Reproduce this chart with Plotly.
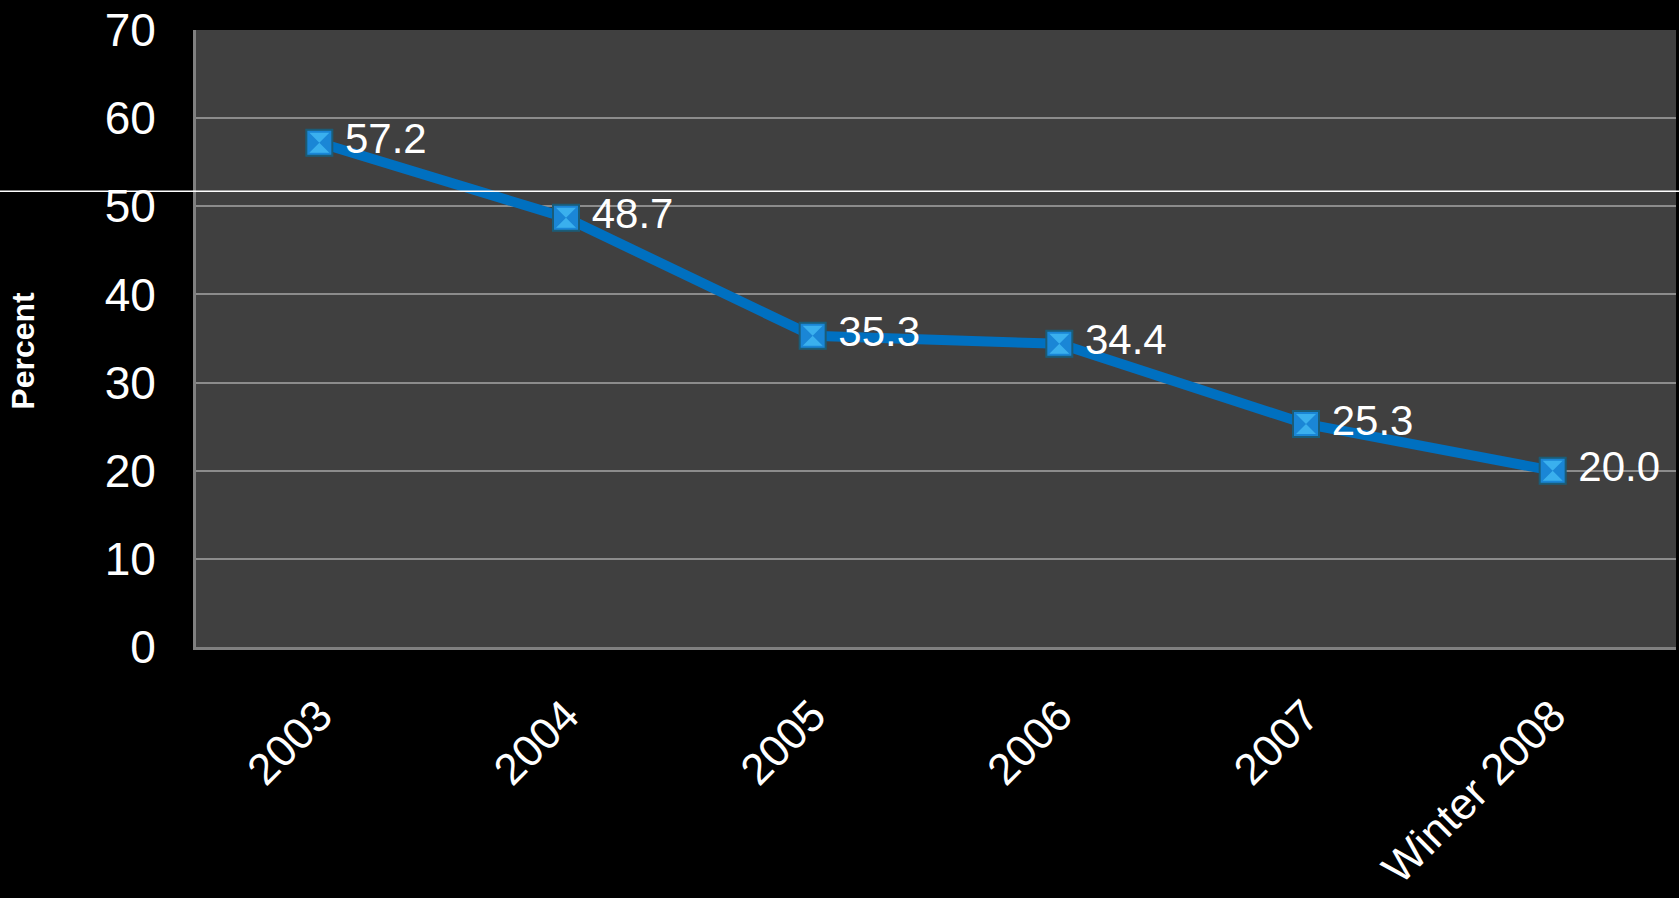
import plotly.graph_objects as go

categories = ["2003", "2004", "2005", "2006", "2007", "Winter 2008"]
values = [57.2, 48.7, 35.3, 34.4, 25.3, 20.0]
value_labels = ["57.2", "48.7", "35.3", "34.4", "25.3", "20.0"]
y_ticks = [0, 10, 20, 30, 40, 50, 60, 70]

W, H = 1679, 898
L, R, T, B = 196, 3, 30, 251

fig = go.Figure()
fig.add_trace(go.Scatter(
    x=categories, y=values,
    mode="lines+markers+text",
    line=dict(color="#0070C0", width=10),
    marker=dict(symbol="square", size=26, color="#1A86D6",
                line=dict(color="#1A5C78", width=2)),
    text=["\u2009" + s for s in value_labels], textposition="middle right",
    textfont=dict(family="Liberation Sans, Arial", size=42, color="white"),
    cliponaxis=False,
    showlegend=False,
))
# bevel highlight of the square markers
fig.add_trace(go.Scatter(
    x=categories, y=values,
    mode="markers",
    marker=dict(symbol="hourglass", size=20, color="rgba(70,190,245,0.75)",
                line=dict(width=0)),
    cliponaxis=False, showlegend=False, hoverinfo="skip",
))

fig.update_layout(
    width=W, height=H,
    margin=dict(l=L, r=R, t=T, b=B, autoexpand=False),
    paper_bgcolor="black",
    plot_bgcolor="#404040",
    font=dict(family="Liberation Sans, Arial", color="white"),
    xaxis=dict(
        type="category", range=[-0.5, 5.5], automargin=False,
        tickangle=-45, tickfont=dict(size=44, color="white"),
        showgrid=False, showline=True, linecolor="#808080", linewidth=3,
        ticks="", ticklabelstandoff=22,
    ),
    yaxis=dict(
        range=[0, 70], tickvals=y_ticks, automargin=False,
        tickfont=dict(size=46, color="white"),
        showgrid=True, gridcolor="#8c8c8c", gridwidth=2,
        showline=True, linecolor="#808080", linewidth=3,
        zeroline=False, ticks="", ticklabelstandoff=28,
    ),
    annotations=[dict(
        text="<b>Percent</b>", textangle=-90, showarrow=False,
        xref="paper", yref="paper", x=-0.117, y=0.48,
        xanchor="center", yanchor="middle",
        font=dict(size=32, color="white", family="Liberation Sans, Arial"),
    )],
    shapes=[dict(
        type="line", xref="paper", yref="y",
        x0=-0.14, x1=1.01, y0=51.7, y1=51.7,
        line=dict(color="white", width=1.5), layer="above",
    )],
)

fig.write_html(
    "out.html",
    config={"displayModeBar": False},
    post_script="document.body.style.margin='0';document.body.style.background='black';",
)
